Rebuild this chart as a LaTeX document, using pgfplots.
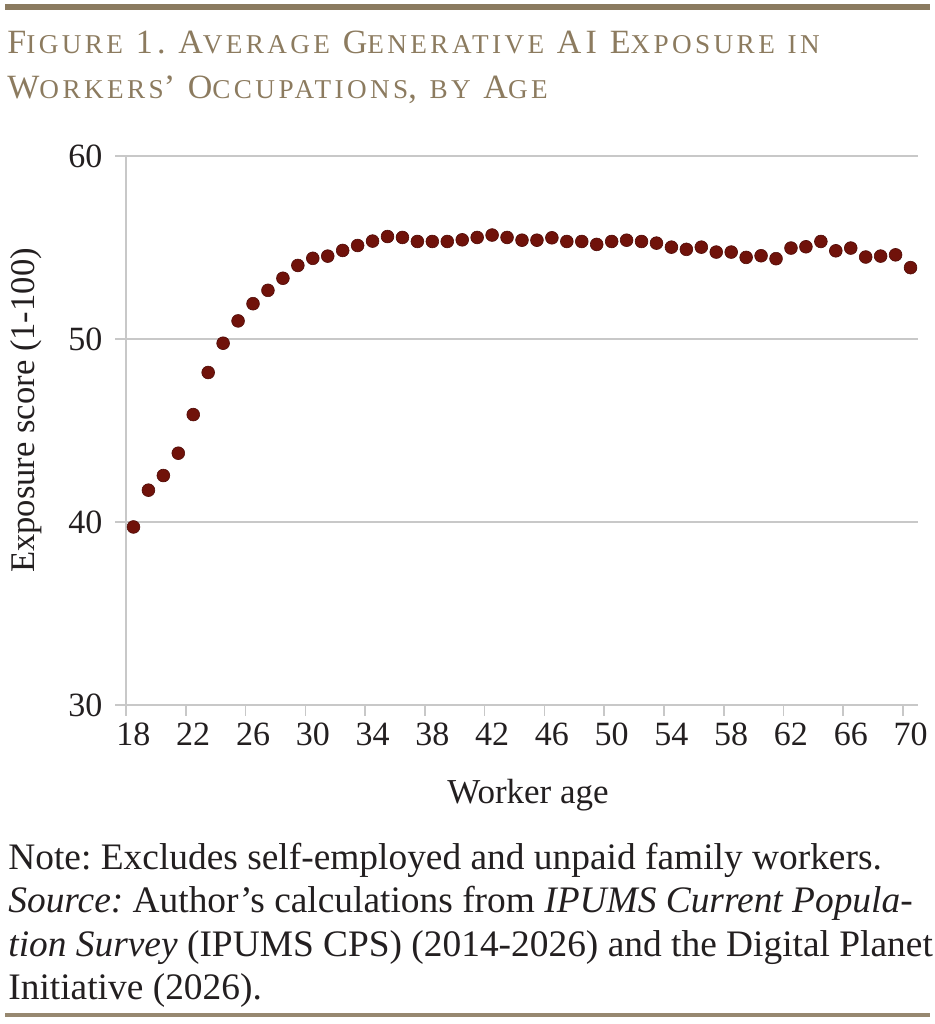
\documentclass[border=0pt]{standalone}
\usepackage{fontspec}
\setmainfont{Liberation Serif}
\newfontfamily\titlefont[LetterSpace=12.5]{Liberation Serif}
\usepackage{pgfplots}
\pgfplotsset{compat=1.18}
\usepackage{pgfplotstable}

\definecolor{titlebrown}{RGB}{140,123,95}
\definecolor{rulebrown}{RGB}{139,123,96}
\definecolor{axisgray}{RGB}{200,200,200}
\definecolor{dotred}{RGB}{112,18,10}
\definecolor{dotedge}{RGB}{80,12,8}
\definecolor{textdark}{RGB}{35,31,32}

% small capitals for the title
\newcommand\SC[1]{{\fontsize{13.6}{13.6}\selectfont #1}}

% average exposure score by worker age
\pgfplotstableread{
age score
18 39.73
19 41.74
20 42.54
21 43.76
22 45.87
23 48.17
24 49.77
25 50.99
26 51.93
27 52.66
28 53.32
29 54.02
30 54.41
31 54.53
32 54.84
33 55.11
34 55.35
35 55.60
36 55.55
37 55.33
38 55.33
39 55.33
40 55.42
41 55.55
42 55.68
43 55.55
44 55.40
45 55.40
46 55.53
47 55.33
48 55.33
49 55.17
50 55.33
51 55.40
52 55.33
53 55.24
54 55.02
55 54.90
56 55.02
57 54.75
58 54.75
59 54.46
60 54.55
61 54.39
62 54.97
63 55.04
64 55.33
65 54.82
66 54.97
67 54.48
68 54.53
69 54.60
70 53.90
}\exposure

\begin{document}
\frenchspacing
\begin{tikzpicture}
\begin{scope}[x=0.5pt,y=-0.5pt]
  \path[use as bounding box] (0,0) rectangle (935,1024);
  % rules
  \fill[rulebrown] (5,4) rectangle (930,9.5);
  \fill[rulebrown!90!white] (5,1013) rectangle (930,1017);
  % title
  \node[anchor=base west, inner sep=0, text=titlebrown,
        font=\titlefont\fontsize{17}{17}\selectfont] at (7,53)
    {F\SC{IGURE} 1. A\SC{VERAGE} G\SC{ENERATIVE} AI E\SC{XPOSURE} \SC{IN}};
  \node[anchor=base west, inner sep=0, text=titlebrown,
        font=\titlefont\fontsize{17}{17}\selectfont] at (7,98)
    {W\SC{ORKERS}’ O\SC{CCUPATIONS}, \SC{BY} A\SC{GE}};
  % axis titles
  \node[anchor=base, inner sep=0, rotate=90, text=textdark,
        font=\fontsize{17.3}{17.3}\selectfont] at (34,410.5) {Exposure score (1-100)};
  \node[anchor=base, inner sep=0, text=textdark,
        font=\fontsize{17.5}{17.5}\selectfont] at (528,803) {Worker age};
  % notes
  \begin{scope}[every node/.style={anchor=base west, inner sep=0, text=textdark,
        font=\fontsize{18.7}{18.7}\selectfont}]
    \node at (8,869) {Note: Excludes self-employed and unpaid family workers.};
    \node at (8,912) {\textit{Source:} Author’s calculations from \textit{IPUMS Current Popula-}};
    \node at (8,956) {\textit{tion Survey} (IPUMS CPS) (2014-2026) and the Digital Planet};
    \node at (8,999) {Initiative (2026).};
  \end{scope}
\end{scope}

\begin{axis}[
  at={(63pt,-352.5pt)}, anchor=south west,
  scale only axis, width=396pt, height=274.5pt,
  xmin=17.5, xmax=70.5, ymin=30, ymax=60,
  axis x line*=bottom, axis y line*=left,
  axis line style={draw=axisgray, line width=0.8pt, -},
  xtick={17.5,21.5,...,69.5},
  xticklabels={18,22,26,30,34,38,42,46,50,54,58,62,66,70},
  ytick={30,40,50,60},
  tick align=outside, major tick length=5.3pt,
  tick style={draw=axisgray, line width=0.8pt},
  ymajorgrids, grid style={draw=axisgray, line width=0.8pt},
  /pgf/number format/assume math mode=true,
  xticklabel style={xshift=3.736pt, text=textdark, font=\fontsize{17}{17}\selectfont},
  yticklabel style={text=textdark, xshift=-3pt, font=\fontsize{17}{17}\selectfont},
  clip=false,
]
\addplot[only marks, mark=*, mark size=3.2pt,
  mark options={fill=dotred, draw=dotedge, line width=0.3pt}]
  table[x=age, y=score] {\exposure};
\end{axis}
\end{tikzpicture}
\end{document}
